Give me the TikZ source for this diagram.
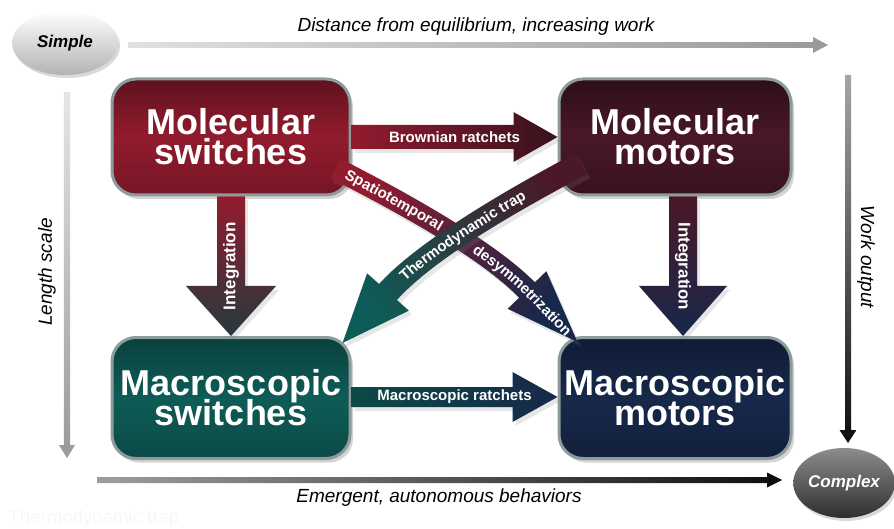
\documentclass[tikz,border=0pt]{standalone}
\usepackage{fontspec}
\setmainfont{Liberation Sans}
\usetikzlibrary{calc,shapes.geometric,shadows,decorations.text}
\definecolor{cred}{HTML}{921B2E}
\definecolor{cmaroon}{HTML}{4A1828}
\definecolor{cteal}{HTML}{0E5C57}
\definecolor{cnavy}{HTML}{17284A}
\definecolor{cslate}{HTML}{243A3E}
\definecolor{cborder}{HTML}{8C9B9B}
\lineskiplimit=-100pt
% block arrow from #2 to #3: half shaft #4, half head #5, head length #6
\newcommand{\blockarrow}[6][]{%
  \coordinate (hb) at ($(#3)!#6!(#2)$);
  \shade[#1] ($(#2)!#4!90:(#3)$) -- ($(hb)!#4!-90:(#2)$) -- ($(hb)!#5!-90:(#2)$) -- (#3)
    -- ($(hb)!#5!90:(#2)$) -- ($(hb)!#4!90:(#2)$) -- ($(#2)!#4!-90:(#3)$) -- cycle;}

\begin{document}
\begin{tikzpicture}[x=1pt,y=-1pt,
  box/.style={rounded corners=24pt,draw=cborder,line width=3pt,text=white,align=center,
    font=\fontsize{36}{30}\selectfont\bfseries,
    drop shadow={opacity=0.35,shadow xshift=3pt,shadow yshift=-4pt}},
  oval/.style={ellipse,inner sep=0pt,font=\fontsize{17}{20}\selectfont\bfseries\itshape,
    drop shadow={opacity=0.3,shadow xshift=2pt,shadow yshift=-3pt}},
  lbl/.style={font=\fontsize{19}{22}\selectfont\itshape},
  alabel/.style={text=white,font=\fontsize{15}{18}\selectfont\bfseries},
  ashadow/.style={drop shadow={opacity=0.2,shadow xshift=3pt,shadow yshift=-4pt}}]
  \useasboundingbox (0,0) rectangle (894,529);

  % axes
  \node[oval,minimum width=106pt,minimum height=64pt,top color=white,bottom color=black!30] (simple) at (65,43) {Simple};
  \node[oval,minimum width=98pt,minimum height=70pt,top color=black!45,bottom color=black!82,text=white] (complex) at (844,483) {Complex};
  \coordinate (ta) at (128,45); \coordinate (tb) at (828,45);
  \coordinate (la) at (67,92);  \coordinate (lb) at (67,458);
  \coordinate (ra) at (848,75); \coordinate (rb) at (848,443);
  \coordinate (ba) at (97,480); \coordinate (bb) at (782,480);
  \blockarrow[left color=black!12,right color=black!40]{ta}{tb}{2.8pt}{8pt}{15pt}
  \blockarrow[top color=black!10,bottom color=black!40]{la}{lb}{3.2pt}{8pt}{13pt}
  \blockarrow[top color=black!35,bottom color=black!95]{ra}{rb}{3pt}{8.5pt}{13pt}
  \blockarrow[left color=black!38,right color=black!95]{ba}{bb}{3pt}{7.5pt}{15pt}
  \node[lbl] (tlab) at (476,27) {Distance from equilibrium, increasing work};
  \node[lbl,rotate=90] (llab) at (47,272) {Length scale};
  \node[lbl,rotate=-90] (rlab) at (866,257) {Work output};
  \node[lbl] (blab) at (439,498) {Emergent, autonomous behaviors};
  \node[font=\fontsize{18.6}{22}\selectfont,text=black!3] (ghost) at (94,519) {Thermodynamic trap};

  % boxes
  \node[box,minimum width=238pt,minimum height=116pt,top color=cred!65!black,bottom color=cred!80!black,middle color=cred] (msw) at (231,137) {Molecular\\switches};
  \node[box,minimum width=232pt,minimum height=116pt,top color=cmaroon!60!black,bottom color=cmaroon!75!black,middle color=cmaroon] (mmo) at (675,137) {Molecular\\motors};
  \node[box,minimum width=238pt,minimum height=121pt,top color=cteal!70!black,bottom color=cteal!80!black,middle color=cteal] (mas) at (231,398) {Macroscopic\\switches};
  \node[box,minimum width=232pt,minimum height=121pt,top color=cnavy!70!black,bottom color=cnavy!80!black,middle color=cnavy] (mam) at (675,398) {Macroscopic\\motors};

  % straight arrows
  \blockarrow[left color=cred,right color=cmaroon!75!black,ashadow]{msw.east}{mmo.west}{12pt}{25pt}{44pt}
  \node[alabel] (brown) at ($(msw.east)!0.5!(mmo.west)$) {Brownian ratchets};
  \coordinate (ma) at ($(mas.east)+(0,-1)$); \coordinate (mb) at ($(mam.west)+(0,-1)$);
  \blockarrow[left color=cteal!80!black,right color=cnavy,ashadow]{ma}{mb}{10pt}{25pt}{45pt}
  \node[alabel] (macro) at ($(ma)!0.5!(mb)$) {Macroscopic ratchets};
  \blockarrow[top color=cred,bottom color=cslate,ashadow]{msw.south}{mas.north}{14pt}{45pt}{50pt}
  \node[alabel,font=\fontsize{17}{20}\selectfont\bfseries,rotate=90] (int1) at ($(msw.south)!0.5!(mas.north)$) {Integration};
  \coordinate (ia) at ($(mmo.south)+(8,0)$); \coordinate (ib) at ($(mam.north)+(8,0)$);
  \blockarrow[top color=cmaroon,bottom color=cnavy,ashadow]{ia}{ib}{14pt}{44pt}{50pt}
  \node[alabel,font=\fontsize{17}{20}\selectfont\bfseries,rotate=-90] (int2) at ($(ia)!0.5!(ib)$) {Integration};

  % spatiotemporal desymmetrization
  \coordinate (sps) at ($(msw.south east)+(-16,-28)$);
  \coordinate (spc) at (480,242);
  \coordinate (spe) at (527,290);
  \coordinate (spt) at ($(mam.north west)+(20,6)$);
  \coordinate (spa) at ($(sps)!0.667!(spc)$);
  \coordinate (spb) at ($(spe)!0.667!(spc)$);
  \shade[left color=cred,right color=cnavy,shading angle=54,ashadow]
    ($(sps)!11pt!90:(spc)$) .. controls ($(spa)!11pt!90:(spc)$) and ($(spb)!11pt!-90:(spc)$) .. ($(spe)!11pt!-90:(spc)$)
    -- ($(spe)!27pt!90:(spt)$) -- (spt) -- ($(spe)!27pt!-90:(spt)$)
    -- ($(spe)!11pt!90:(spc)$) .. controls ($(spb)!11pt!90:(spc)$) and ($(spa)!11pt!-90:(spc)$) .. ($(sps)!11pt!-90:(spc)$) -- cycle;
  \path[decorate,decoration={text along path,raise=-5pt,text align={left,left indent=12pt},
    text={|\fontsize{15}{15}\selectfont\bfseries\color{white}|Spatiotemporal}}]
    (sps) .. controls (spa) and (spb) .. (spe) -- (spt);
  \path[decorate,decoration={text along path,raise=-5pt,text align={right,right indent=12pt},
    text={|\fontsize{15}{15}\selectfont\bfseries\color{white}|desymmetrization}}]
    (sps) .. controls (spa) and (spb) .. (spe) -- (spt);

  % thermodynamic trap
  \coordinate (ths) at ($(mmo.south west)+(24,-33)$);
  \coordinate (thc) at (433,242);
  \coordinate (the) at (388,292);
  \coordinate (tht) at ($(mas.north east)+(-9,7)$);
  \coordinate (tha) at ($(ths)!0.667!(thc)$);
  \coordinate (thb) at ($(the)!0.667!(thc)$);
  \shade[left color=cteal,right color=cmaroon,shading angle=127,ashadow]
    ($(ths)!12pt!90:(thc)$) .. controls ($(tha)!12pt!90:(thc)$) and ($(thb)!12pt!-90:(thc)$) .. ($(the)!12pt!-90:(thc)$)
    -- ($(the)!28pt!90:(tht)$) -- (tht) -- ($(the)!28pt!-90:(tht)$)
    -- ($(the)!12pt!90:(thc)$) .. controls ($(thb)!12pt!90:(thc)$) and ($(tha)!12pt!-90:(thc)$) .. ($(ths)!12pt!-90:(thc)$) -- cycle;
  \path[decorate,decoration={text along path,raise=-5pt,text align={left,left indent=88pt},
    text={|\fontsize{15}{15}\selectfont\bfseries\color{white}|Thermodynamic trap}}]
    (tht) -- (the) .. controls (thb) and (tha) .. (ths);
\end{tikzpicture}
\end{document}
